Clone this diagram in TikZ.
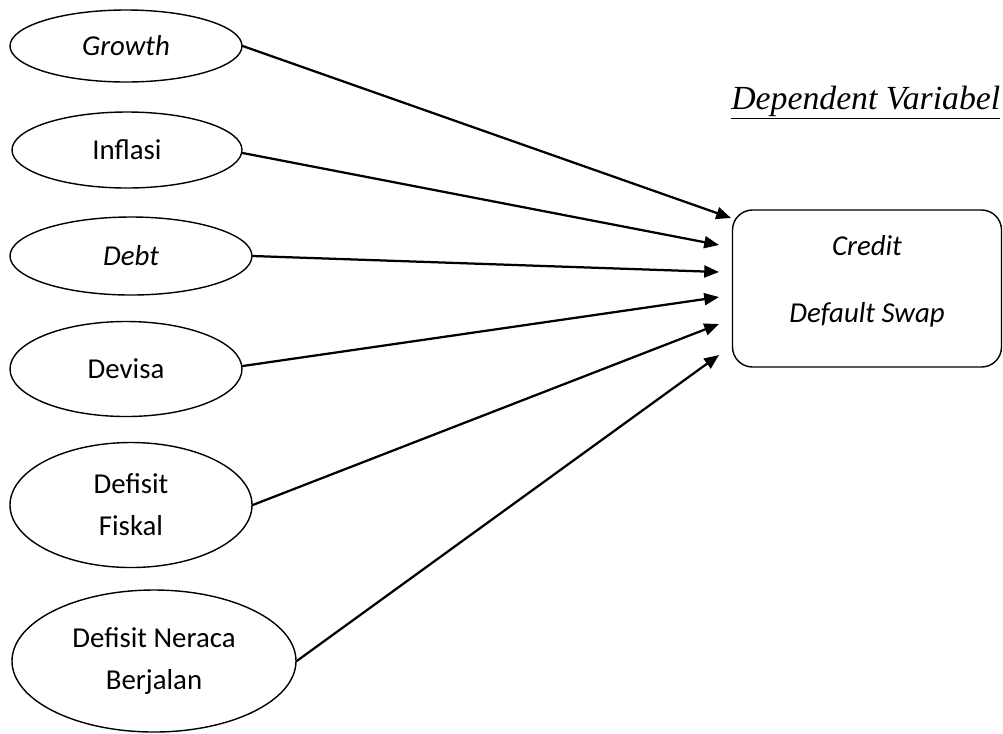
\documentclass[tikz,border=0pt]{standalone}
\usepackage{fontspec}
\setmainfont{Carlito}
\newfontfamily\timesfont{Liberation Serif}
\usetikzlibrary{arrows.meta,positioning,calc,shapes.geometric}

\tikzset{
  var/.style={draw, ellipse, line width=1pt, inner sep=0pt, align=center,
    font=\fontsize{20.5}{30}\selectfont},
  link/.style={-{Triangle[length=10.5pt,width=8.5pt]}, line width=1.6pt}
}

\begin{document}
\begin{tikzpicture}[x=0.025cm, y=-0.025cm, line cap=round, line join=round]

\useasboundingbox (0,0) rectangle (1003,733);

\node[var, minimum width=232*0.025cm, minimum height=72*0.025cm] (growth) at (126,46) {\itshape Growth};
\node[var, minimum width=230*0.025cm, minimum height=76*0.025cm] (inflasi) at (127,150) {Inflasi};
\node[var, minimum width=242*0.025cm, minimum height=78*0.025cm] (debt) at (131,256) {\itshape Debt};
\node[var, minimum width=232*0.025cm, minimum height=95*0.025cm] (devisa) at (126,369) {Devisa};
\node[var, minimum width=242*0.025cm, minimum height=125*0.025cm] (fiskal) at (131,505) {Defisit\\Fiskal};
\node[var, minimum width=284*0.025cm, minimum height=142*0.025cm] (neraca) at (154,661) {Defisit Neraca\\Berjalan};

\node[draw, rounded corners=0.5cm, line width=1pt, minimum width=269*0.025cm, minimum height=157*0.025cm,
  label={[yshift=5pt, align=center, font=\fontsize{20.5}{34}\selectfont\itshape]center:Credit\\[14pt]Default Swap}]
  (cds) at (867,288.5) {};
\node[anchor=base west, inner sep=0pt, font=\timesfont\fontsize{24}{28}\selectfont\itshape] (dep) at (731,109)
  {\underline{Dependent Variabel}};

\coordinate (in1) at (731,218);
\coordinate (in2) at (719,245);
\coordinate (in3) at (719,272);
\coordinate (in4) at (719,297);
\coordinate (in5) at (719,324);
\coordinate (in6) at (719,355);

\draw[link] (growth.east) -- (in1);
\draw[link] ($(inflasi.east)+(0,3)$) -- (in2);
\draw[link] (debt.east) -- (in3);
\draw[link] ($(devisa.east)+(0,-3)$) -- (in4);
\draw[link] (fiskal.east) -- (in5);
\draw[link] (neraca.east) -- (in6);

\end{tikzpicture}
\end{document}
